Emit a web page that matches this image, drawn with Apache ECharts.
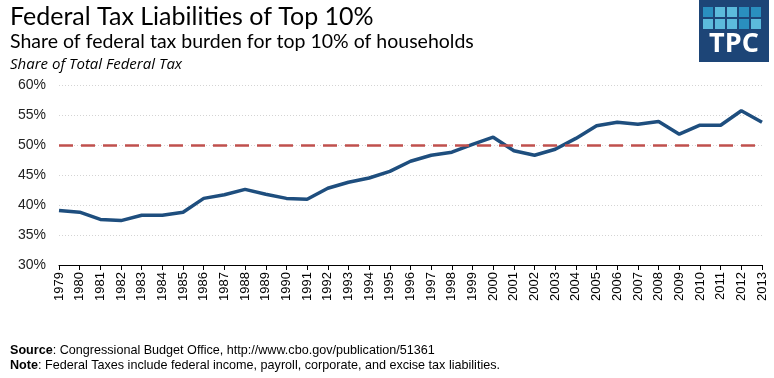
<!DOCTYPE html>
<html>
<head>
<meta charset="utf-8">
<script src="https://cdn.jsdelivr.net/npm/echarts@6/dist/echarts.min.js"></script>
<style>html,body{margin:0;padding:0;background:#fff;}#c{width:774px;height:378px;}</style>
</head>
<body>
<div id="c"></div>
<script>
const years = ['1979','1980','1981','1982','1983','1984','1985','1986','1987','1988','1989','1990','1991','1992','1993','1994','1995','1996','1997','1998','1999','2000','2001','2002','2003','2004','2005','2006','2007','2008','2009','2010','2011','2012','2013'];
const shareTop10 = [39.1,38.8,37.6,37.4,38.3,38.3,38.8,41.1,41.7,42.6,41.8,41.1,40.95,42.8,43.8,44.5,45.6,47.3,48.3,48.8,50.1,51.3,49.05,48.3,49.3,51.1,53.2,53.8,53.45,53.9,51.8,53.3,53.3,55.7,53.8];
const referenceLevel = 50;
const yTicks = {min: 30, max: 60, interval: 5};

const chart = echarts.init(document.getElementById('c'));
const sqColors = ['#2a8fbf','#5cbbdc','#5cbbdc','#2a8fbf','#2a8fbf','#5cbbdc','#5cbbdc','#5cbbdc','#2a8fbf','#5cbbdc'];
const logoSquares = sqColors.map((c,i)=>({
  type:'rect', shape:{x:703+(i%5)*12, y:7+Math.floor(i/5)*12, width:10, height:10}, style:{fill:c}
}));
const footRich = {b:{fontWeight:'bold',fontFamily:'Liberation Sans',fontSize:12.6,fill:'#000'},n:{fontFamily:'Liberation Sans',fontSize:12.6,fill:'#000'}};
chart.setOption({
  animation:false,
  grid:{left:59,right:12,top:85,bottom:113,containLabel:false},
  xAxis:{
    type:'category', data:years, boundaryGap:false,
    axisLine:{lineStyle:{color:'#000',width:1}},
    axisTick:{show:true,length:5,lineStyle:{color:'#000'},alignWithLabel:true},
    axisLabel:{rotate:90,color:'#000',fontFamily:'Liberation Sans',fontSize:13,margin:7,interval:0},
    splitLine:{show:false}
  },
  yAxis:{
    type:'value', min:yTicks.min, max:yTicks.max, interval:yTicks.interval,
    axisLine:{show:false}, axisTick:{show:false},
    axisLabel:{formatter:'{value}%',color:'#222',fontFamily:'Liberation Sans',fontSize:14,margin:13},
    splitLine:{lineStyle:{color:'#d4d4d4',type:[1,2],width:1}}
  },
  series:[{
    type:'line', data:shareTop10, symbol:'none',
    lineStyle:{color:'#1e4e7e',width:3.5},
    markLine:{
      silent:true, symbol:'none', label:{show:false},
      lineStyle:{color:'#c0504d',type:[14,8],width:2.5},
      data:[{yAxis:referenceLevel}]
    }
  }],
  graphic:[
    {type:'text',left:10,top:4,style:{text:'Federal Tax Liabilities of Top 10%',font:'25px Lato',fill:'#000'}},
    {type:'text',left:10,top:32,style:{text:'Share of federal tax burden for top 10% of households',font:'19.5px Lato',fill:'#000'}},
    {type:'text',left:10,top:57,style:{text:'Share of Total Federal Tax',font:'italic 15px "Open Sans"',fill:'#000'}},
    {type:'text',left:10,top:344,style:{rich:footRich,text:'{b|Source}{n|: Congressional Budget Office, http://www.cbo.gov/publication/51361}'}},
    {type:'text',left:10,top:359,style:{rich:footRich,text:'{b|Note}{n|: Federal Taxes include federal income, payroll, corporate, and excise tax liabilities.}'}},
    {type:'group',children:[
      {type:'rect',shape:{x:699,y:0,width:70,height:62},style:{fill:'#1d4577'}},
      ...logoSquares,
      {type:'text',style:{text:'TPC',x:734,y:44,align:'center',verticalAlign:'middle',font:'bold 27px "Open Sans"',fill:'#fff'}}
    ]}
  ]
});
</script>
</body>
</html>
